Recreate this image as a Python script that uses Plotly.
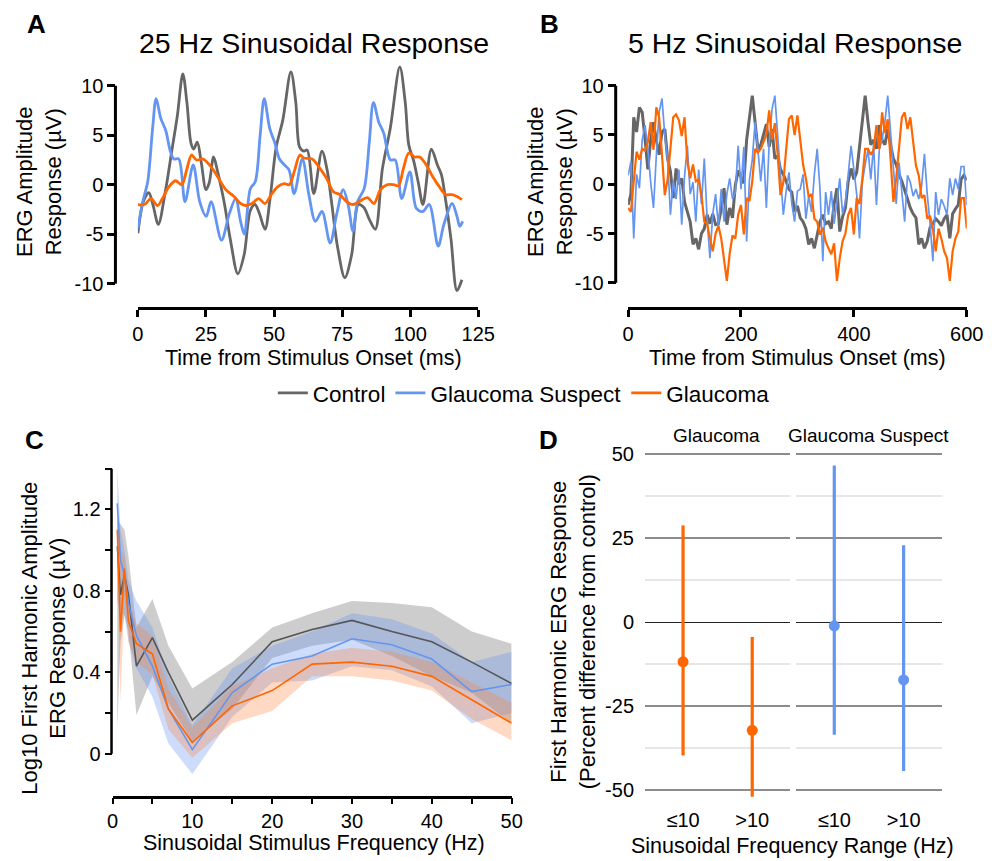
import plotly.graph_objects as go

W, H = 1003, 861
def X(px): return px / W
def Y(py): return 1 - py / H

CTRL = '#666666'
SUS = '#6495F0'
GLA = '#FF6600'
FONT = 'Liberation Sans, Arial, sans-serif'

# ---------------- Panel A data (25 Hz) ----------------
a_ctrl_t = [0, 2, 4, 5.5, 7.5, 10, 12.5, 14.5, 16.5, 18, 19.5, 20.5, 21.8, 23.3, 25, 26.2, 27.8, 29.3, 31.7, 34,
            36.7, 39, 41.3, 43, 44.5, 46.7, 48.5, 50.8, 53.2, 56.2, 58, 59.4, 61, 62.2, 64.6, 67.6, 69.5, 71.1, 73.4, 76,
            78.5, 81, 83, 85, 87.2, 89.8, 92.7, 96.2, 98.2, 99.5, 101.3, 103, 104.7, 107.8, 110, 111.5, 113, 115, 117.2, 119]
a_ctrl_v = [-4.9, -1.7, -0.8, -2.0, -4.0, -0.8, 3.5, 7.0, 11.2, 8.3, 4.2, 3.6, 4.3, 2.2, -0.5, 0.2, 2.8, 1.3, -1.8, -5.6,
            -9.0, -7.1, -2.6, -2.0, -2.8, -4.5, -1.5, 3.8, 6.5, 11.4, 8.3, 3.8, 3.4, 3.5, -0.9, 3.4, 1.5, -1.7, -6.4, -9.4,
            -7.1, -2.0, -2.3, -3.5, -4.5, 1.6, 5.7, 11.9, 8.3, 4.0, 2.4, 0.2, -2.0, 3.6, 2.0, 1.0, -1.5, -5.5, -10.7, -9.6]

a_sus_t = [0, 1.8, 3.6, 5.4, 6.7, 8.4, 10.2, 12, 13.2, 15, 17.3, 20.3, 22.7, 25.1, 26.9, 30.7, 33.5, 35.9, 37.7, 39.1,
           41.3, 43.1, 44.9, 46.4, 48.4, 50.2, 52, 53.8, 55.5, 57.4, 60.4, 62.8, 65.2, 67.6, 70.6, 73, 75.4, 77.2, 79, 80.7,
           83.1, 85, 86.5, 88.5, 90.3, 92.7, 94.5, 96.9, 99.9, 102.3, 104.7, 107, 110.3, 112.4, 115.4, 117.2, 118.2, 119.3]
a_sus_v = [-4.4, -1.7, 0.3, 5.7, 8.7, 6.7, 5.5, 3.3, 2.6, 2.6, -1.7, 2.0, -1.7, -3.2, -1.7, -5.6, -3.0, -1.4, -3.7, -5.0,
           -0.4, 0.3, 5.0, 8.7, 5.7, 4.3, 2.6, 2.0, 1.5, -0.9, 2.6, -1.0, -3.7, -2.7, -5.9, -3.0, -0.5, -2.0, -4.7, -1.7,
           -0.4, 4.3, 8.3, 6.3, 5.2, 2.5, 2.5, -1.4, 1.3, -2.4, -2.7, -2.0, -6.2, -4.0, -1.9, -3.2, -4.2, -3.7]

a_gla_t = [0, 2.4, 4.8, 7.2, 9, 11.4, 13.8, 16.1, 18, 19.7, 21.5, 23.9, 26.9, 29.3, 32.3, 35.3, 37.7, 39.5, 41.9, 44.3,
           46.7, 49, 51.4, 53.8, 55.6, 57.4, 59.5, 61, 64, 67, 69.4, 71.8, 74.2, 76.6, 79, 81.3, 84.3, 86.7, 89.1, 91.5,
           93.9, 95.7, 97.5, 99.5, 101.7, 103.5, 105.9, 108.3, 110.7, 113.1, 115.4, 117.2, 119]
a_gla_v = [-2.0, -2.0, -1.4, -2.1, -1.4, -0.2, 0.4, 0.0, 1.6, 3.0, 2.5, 2.6, 1.8, 0.8, -0.5, -1.2, -1.9, -2.1, -1.9, -1.4,
           -1.9, -1.0, -0.2, 0.1, 0.0, 1.3, 3.0, 2.7, 2.6, 1.6, 0.6, -0.7, -1.0, -1.7, -2.0, -1.7, -1.3, -1.9, -0.5, 0.0,
           0.0, -0.1, 1.6, 3.2, 2.8, 2.8, 2.0, 0.8, -0.2, -1.0, -1.0, -1.2, -1.5]

# ---------------- Panel B data (5 Hz), sampled every 5 ms ----------------
b_t = list(range(0, 601, 5))
b_ctrl = [-2.1, -1.0, 6.8, 5.3, 7.8, 7.3, 4.6, 1.5, 4.5, 6.3,
          4.5, 3.0, 5.3, 5.6, 2.6, 1.3, -1.4, 1.6, 0.0, 0.6,
          -1.8, -2.8, -3.8, -6.1, -5.5, -6.6, -5.0, -4.5, -3.1, -4.0,
          -3.0, -4.1, -4.0, -2.5, -0.4, -4.1, -2.4, -3.4, -0.1, 1.4,
          0.8, 0.1, 4.5, 6.5, 9.0, 6.3, 3.5, 4.0, 5.0, 6.1,
          3.8, 5.6, 2.6, 2.9, 1.5, 1.0, 0.3, -0.5, -0.8, -2.8,
          -2.2, -3.4, -3.8, -4.5, -6.1, -5.5, -6.5, -5.1, -3.8, -3.1,
          -4.0, -3.8, -4.5, -2.0, -0.4, -4.8, -3.3, -2.4, 0.3, 1.6,
          0.5, 1.2, 3.9, 6.0, 9.0, 6.3, 4.0, 4.5, 3.6, 6.0,
          4.5, 4.0, 5.6, 4.0, 2.6, 2.0, 1.0, 0.3, -0.5, -1.5,
          -2.4, -3.0, -3.4, -6.1, -5.5, -6.5, -5.8, -4.4, -4.0, -3.5,
          -3.8, -4.2, -3.5, -3.1, -5.5, -3.0, -2.5, -2.1, 0.5, 0.9,
          0.4]
b_sus = [0.9, 2.3, -5.5, 1.0, -0.4, 4.5, 6.0, 3.6, 0.2, -2.4,
         2.9, 7.3, 8.7, 5.0, 2.5, -3.1, 0.3, -1.5, 1.5, -4.1,
         0.8, 3.9, -1.0, 0.2, -3.8, 1.5, -2.0, 2.6, -3.5, -7.5,
         -3.0, -1.0, -4.3, -0.5, -3.8, -1.0, 0.6, -1.5, -0.8, 3.9,
         -0.5, 3.8, -5.8, 0.5, 2.5, 6.3, 3.5, 0.3, 3.6, -2.4,
         4.2, 7.6, 9.0, 5.0, 0.5, -3.1, -0.7, 1.2, -2.0, -3.8,
         -0.7, -0.5, 1.0, -3.5, -1.2, -2.8, 1.0, 3.6, -0.5, -7.8,
         -0.8, -3.1, -0.7, -4.0, -1.8, 0.6, -3.0, -1.8, 1.0, 3.9,
         1.5, -1.0, -5.5, 0.2, 2.0, 3.5, 0.5, 4.0, -2.1, 3.5,
         4.5, 6.3, 9.0, 5.0, 1.8, -2.0, 2.2, -0.5, -3.8, 0.9,
         0.2, -1.2, -0.5, -1.5, -0.2, 3.1, -1.0, -4.0, -7.8, -0.8,
         -3.1, -1.5, -2.2, -3.1, 0.6, -1.1, 0.6, -0.5, 1.8, 1.8,
         -2.1]
b_gla = [-2.4, -2.8, 0.3, 3.3, 2.5, 3.6, 3.4, 4.3, 6.3, 3.5,
         7.8, 6.8, 3.0, -1.1, 0.5, 3.5, 6.8, 7.1, 6.5, 4.9,
         6.8, 2.3, 0.6, 2.0, 0.3, 0.5, -1.1, -3.8, -4.0, -5.5,
         -6.8, -5.0, -4.2, -5.5, -7.8, -9.8, -7.0, -5.2, -5.5, -3.1,
         -2.1, -5.1, -1.4, -1.7, 0.3, 3.6, 3.2, 3.6, 4.3, 5.1,
         7.5, 4.5, 6.2, 3.0, -1.1, 0.2, 3.5, 6.6, 7.0, 5.0,
         7.0, 4.3, 2.0, 0.6, -1.3, -1.0, -3.5, -3.8, -5.1, -4.4,
         -5.8, -6.5, -7.1, -6.0, -9.8, -7.5, -5.8, -5.0, -3.1, -2.4,
         -5.1, -1.4, -2.0, 0.6, 3.6, 3.6, 3.0, 3.5, 6.0, 3.6,
         7.3, 5.2, 6.6, 2.6, -1.8, 0.6, 3.6, 6.8, 7.3, 5.6,
         6.8, 4.6, 1.9, 0.9, -1.4, -1.1, -3.5, -3.2, -4.5, -6.8,
         -4.5, -5.5, -6.8, -7.5, -9.8, -6.8, -5.5, -4.8, -1.4, -1.4,
         -4.5]

# ---------------- Panel C data ----------------
c_freq = [0.6, 1, 1.5, 2, 3, 5, 7, 10, 15, 20, 25, 30, 35, 40, 45, 50]
c_ctrl = [1.02, 0.78, 0.88, 0.78, 0.43, 0.57, 0.40, 0.165, 0.34, 0.55, 0.61, 0.655, 0.60, 0.55, 0.45, 0.345]
c_ctrl_hi = [1.15, 1.13, 1.10, 0.97, 0.62, 0.76, 0.53, 0.32, 0.45, 0.62, 0.69, 0.75, 0.74, 0.72, 0.60, 0.54]
c_ctrl_lo = [0.12, 0.55, 0.68, 0.60, 0.19, 0.38, 0.25, 0.06, 0.22, 0.47, 0.53, 0.56, 0.48, 0.38, 0.30, 0.15]
c_sus = [1.23, 0.95, 0.88, 0.74, 0.58, 0.43, 0.22, 0.02, 0.30, 0.44, 0.48, 0.565, 0.535, 0.465, 0.305, 0.34]
c_sus_hi = [1.40, 1.10, 1.00, 0.85, 0.75, 0.62, 0.38, 0.14, 0.42, 0.53, 0.60, 0.69, 0.66, 0.59, 0.45, 0.50]
c_sus_lo = [0.75, 0.70, 0.68, 0.55, 0.42, 0.28, 0.05, -0.10, 0.18, 0.35, 0.36, 0.43, 0.41, 0.33, 0.15, 0.20]
c_gla = [1.10, 0.60, 0.91, 0.65, 0.54, 0.49, 0.22, 0.055, 0.235, 0.31, 0.44, 0.45, 0.43, 0.38, 0.265, 0.15]
c_gla_hi = [1.15, 1.00, 0.97, 0.76, 0.64, 0.58, 0.32, 0.13, 0.33, 0.42, 0.49, 0.52, 0.50, 0.45, 0.35, 0.25]
c_gla_lo = [0.95, 0.25, 0.78, 0.55, 0.45, 0.39, 0.12, -0.02, 0.15, 0.21, 0.38, 0.38, 0.36, 0.31, 0.17, 0.065]

# ---------------- Panel D data ----------------
d_ranges = ['≤10', '>10']
d_gla_est = [-11.8, -32.2]
d_gla_lo = [-39.7, -52.0]
d_gla_hi = [28.8, -4.4]
d_sus_est = [-1.1, -17.2]
d_sus_lo = [-33.5, -44.3]
d_sus_hi = [46.6, 22.9]

fig = go.Figure()

# Panel A
for t, v, name, col in [(a_ctrl_t, a_ctrl_v, 'Control', CTRL),
                        (a_sus_t, a_sus_v, 'Glaucoma Suspect', SUS),
                        (a_gla_t, a_gla_v, 'Glaucoma', GLA)]:
    fig.add_trace(go.Scatter(x=t, y=v, mode='lines', name=name, xaxis='x', yaxis='y',
                             line=dict(color=col, width=2.8, shape='spline', smoothing=0.9),
                             showlegend=True))

# Panel B
for v, col, w in [(b_ctrl, CTRL, 3.0), (b_sus, SUS, 1.7), (b_gla, GLA, 2.2)]:
    fig.add_trace(go.Scatter(x=b_t, y=v, mode='lines', xaxis='x2', yaxis='y2',
                             line=dict(color=col, width=w), showlegend=False))

# Panel C bands
for hi, lo, fc in [(c_ctrl_hi, c_ctrl_lo, 'rgba(150,150,150,0.48)'),
                   (c_sus_hi, c_sus_lo, 'rgba(100,145,240,0.32)'),
                   (c_gla_hi, c_gla_lo, 'rgba(255,130,60,0.30)')]:
    fig.add_trace(go.Scatter(x=c_freq + c_freq[::-1], y=hi + lo[::-1], mode='lines',
                             fill='toself', fillcolor=fc, line=dict(width=0),
                             xaxis='x3', yaxis='y3', showlegend=False, hoverinfo='skip'))
for v, col in [(c_ctrl, '#555555'), (c_sus, SUS), (c_gla, GLA)]:
    fig.add_trace(go.Scatter(x=c_freq, y=v, mode='lines', xaxis='x3', yaxis='y3',
                             line=dict(color=col, width=1.6), showlegend=False))

# Panel D
for est, lo, hi, col, xa, ya in [(d_gla_est, d_gla_lo, d_gla_hi, GLA, 'x4', 'y4'),
                                 (d_sus_est, d_sus_lo, d_sus_hi, SUS, 'x5', 'y5')]:
    fig.add_trace(go.Scatter(
        x=[0, 1], y=est, mode='markers', xaxis=xa, yaxis=ya, showlegend=False,
        marker=dict(color=col, size=11),
        error_y=dict(type='data', symmetric=False,
                     array=[h - e for h, e in zip(hi, est)],
                     arrayminus=[e - l for e, l in zip(est, lo)],
                     color=col, thickness=3.2, width=0)))

tickfont = dict(size=20, color='black', family=FONT)
prism_x = dict(showline=True, linewidth=3, linecolor='black', ticks='outside', ticklen=7,
               tickwidth=3, tickcolor='black', showgrid=False, zeroline=False, tickfont=tickfont)
prism_y = dict(showline=False, ticks='outside', ticklen=8, tickwidth=3, tickcolor='black',
               showgrid=False, zeroline=False, tickfont=tickfont)

fig.update_layout(
    width=W, height=861, margin=dict(l=0, r=0, t=0, b=0),
    plot_bgcolor='white', paper_bgcolor='white',
    font=dict(family=FONT, color='black'),
    xaxis=dict(domain=[X(135), X(483.3)], range=[0, 125], anchor='free', position=Y(306.7),
               tickvals=[0, 25, 50, 75, 100, 125], **prism_x),
    yaxis=dict(domain=[Y(300), Y(60)], range=[-11.74, 12.34], anchor='free', position=X(112),
               tickvals=[-10, -5, 0, 5, 10], ticktext=['-10', '-5', '0', '5', '10'], **prism_y),
    xaxis2=dict(domain=[X(636.7), X(983.3)], range=[0, 600], anchor='free', position=Y(306.7),
                tickvals=[0, 200, 400, 600], **prism_x),
    yaxis2=dict(domain=[Y(300), Y(60)], range=[-11.84, 12.35], anchor='free', position=X(624),
                tickvals=[-10, -5, 0, 5, 10], ticktext=['-10', '-5', '0', '5', '10'], **prism_y),
    xaxis3=dict(domain=[X(109), X(517.5)], range=[0, 50], anchor='free', position=Y(799.3),
                showline=True, linewidth=2.5, linecolor='black', ticks='outside', ticklen=6,
                tickwidth=2, tickcolor='black', showgrid=False, zeroline=False, tickfont=tickfont,
                tickvals=[0, 5, 10, 15, 20, 25, 30, 35, 40, 45, 50],
                ticktext=['0', '', '10', '', '20', '', '30', '', '40', '', '50']),
    yaxis3=dict(domain=[Y(790), Y(460)], range=[-0.166, 1.444], anchor='free', position=X(108),
                showline=False, ticks='outside', ticklen=7, tickwidth=2, tickcolor='black',
                showgrid=False, zeroline=False, tickfont=tickfont,
                tickvals=[0, 0.2, 0.4, 0.6, 0.8, 1.0, 1.2, 1.4],
                ticktext=['0', '', '0.4', '', '0.8', '', '1.2', '']),
    xaxis4=dict(domain=[X(654), X(802.7)], range=[-0.55, 1.55], anchor='y4',
                tickvals=[0, 1], ticktext=d_ranges, showline=False, showgrid=False, zeroline=False,
                ticks='outside', ticklen=3, tickcolor='rgba(0,0,0,0)', tickfont=tickfont),
    xaxis5=dict(domain=[X(808.7), X(957.7)], range=[-0.55, 1.55], anchor='y5',
                tickvals=[0, 1], ticktext=d_ranges, showline=False, showgrid=False, zeroline=False,
                ticks='outside', ticklen=3, tickcolor='rgba(0,0,0,0)', tickfont=tickfont),
    yaxis4=dict(domain=[Y(801.1), Y(445.9)], range=[-52.5, 52.5], anchor='x4',
                tickvals=[-50, -25, 0, 25, 50], ticktext=['-50', '-25', '0', '25', '50'],
                showgrid=True, gridcolor='#8c8c8c', gridwidth=2,
                zeroline=True, zerolinecolor='#222222', zerolinewidth=1.2,
                minor=dict(tickvals=[-37.5, -12.5, 12.5, 37.5], showgrid=True,
                           gridcolor='#e6e6e6', gridwidth=2),
                showline=False, ticks='outside', ticklen=6, tickcolor='rgba(0,0,0,0)',
                tickfont=tickfont),
    yaxis5=dict(domain=[Y(801.1), Y(445.9)], range=[-52.5, 52.5], anchor='x5',
                tickvals=[-50, -25, 0, 25, 50], showticklabels=False,
                showgrid=True, gridcolor='#8c8c8c', gridwidth=2,
                zeroline=True, zerolinecolor='#222222', zerolinewidth=1.2,
                minor=dict(tickvals=[-37.5, -12.5, 12.5, 37.5], showgrid=True,
                           gridcolor='#e6e6e6', gridwidth=2),
                showline=False, ticks=''),
    legend=dict(orientation='h', x=X(530), xanchor='center', y=Y(393), yanchor='middle',
                font=dict(size=22.5, family=FONT), bgcolor='rgba(0,0,0,0)', itemwidth=30),
)

# Offset Prism-style y axis lines spanning only the labelled range
fig.add_shape(type='line', xref='paper', yref='y', x0=X(112), x1=X(112), y0=-10, y1=10,
              line=dict(color='black', width=3))
fig.add_shape(type='line', xref='paper', yref='y2', x0=X(624), x1=X(624), y0=-10, y1=10,
              line=dict(color='black', width=3))
fig.add_shape(type='line', xref='paper', yref='y3', x0=X(108), x1=X(108), y0=0, y1=1.4,
              line=dict(color='black', width=2.5))

def ann(text, px, py, size=22, angle=0, bold=False):
    fig.add_annotation(text=f'<b>{text}</b>' if bold else text, x=X(px), y=Y(py),
                       xref='paper', yref='paper', showarrow=False, textangle=angle,
                       xanchor='center', yanchor='middle',
                       font=dict(size=size, family=FONT, color='black'))

# Panel letters
ann('A', 31, 21, 26, bold=True)
ann('B', 556, 21, 26, bold=True)
ann('C', 29, 440, 26, bold=True)
ann('D', 555, 440, 26, bold=True)

# Titles
ann('25 Hz Sinusoidal Response', 315, 40, 28.5)
ann('5 Hz Sinusoidal Response', 808, 40, 28.5)

# Axis titles
ann('ERG Amplitude<br>Response (µV)', 34, 180, 22, angle=-90)
ann('ERG Amplitude<br>Response (µV)', 557, 180, 22, angle=-90)
ann('Time from Stimulus Onset (ms)', 315, 357, 21.5)
ann('Time from Stimulus Onset (ms)', 810, 357, 21.5)
ann('Log10 First Harmonic Amplitude<br>ERG Response (µV)', 38, 640, 22, angle=-90)
ann('Sinusoidal Stimulus Frequency (Hz)', 315, 846, 21.5)
ann('First Harmonic ERG Response<br>(Percent difference from control)', 580, 633, 22, angle=-90)
ann('Sinusoidal Frequency Range (Hz)', 805, 849, 21.5)

# Facet labels
ann('Glaucoma', 727, 436, 19)
ann('Glaucoma Suspect', 883, 436, 19)

fig.write_html('out.html', config={'displayModeBar': False},
               post_script="document.body.style.margin='0';document.body.style.overflow='hidden';")
